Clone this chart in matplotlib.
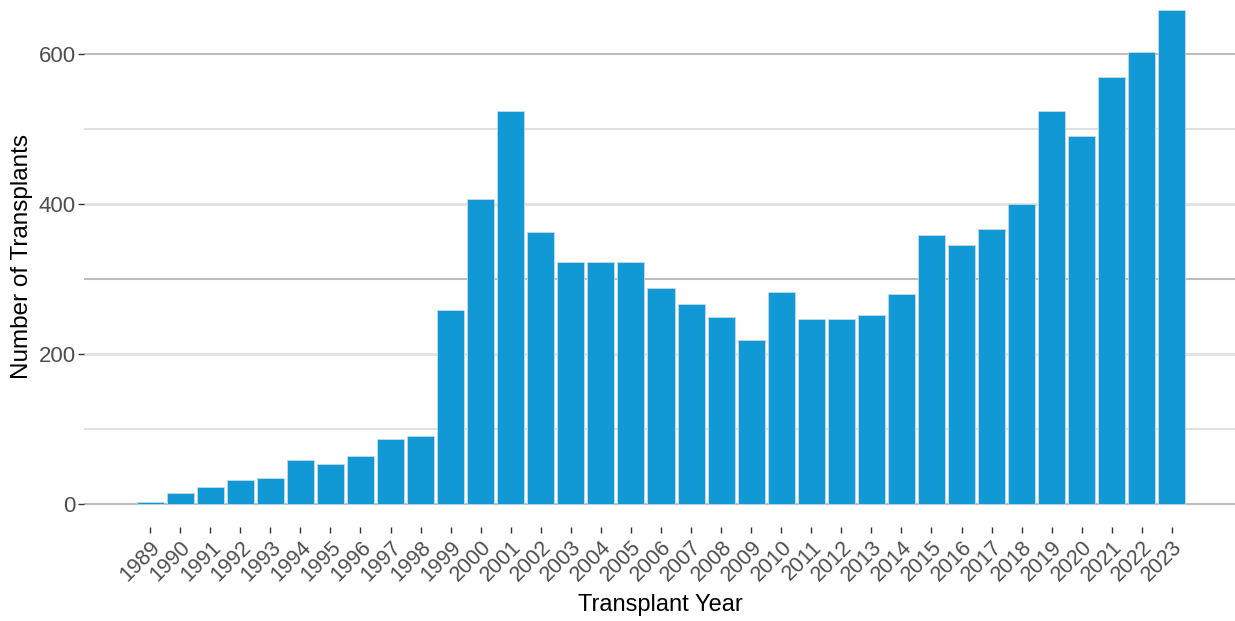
import numpy as np
import matplotlib.pyplot as plt

plt.rcParams['font.family'] = ['Liberation Sans', 'DejaVu Sans']

years = list(range(1989, 2024))
transplants = [2, 14, 22, 32, 35, 59, 53, 64, 87, 91,
               258, 406, 524, 363, 322, 323, 323, 288, 266, 249,
               219, 282, 247, 246, 252, 280, 359, 345, 367, 400,
               524, 491, 569, 602, 658]
y_ticks = [0, 200, 400, 600]

W, H = 1235, 621
fig = plt.figure(figsize=(W / 100, H / 100), dpi=100)
ax = fig.add_axes([84 / W, (H - 527) / H, (W - 84) / W, 527 / H])

# gridlines (0..600 every 100), styled roughly like the reference render
grid_style = {0: ('#bdbdbd', 1.5), 100: ('#dadada', 1.2), 200: ('#e3e3e3', 2.2),
              300: ('#bdbdbd', 1.5), 400: ('#e3e3e3', 2.2), 500: ('#dadada', 1.2),
              600: ('#bdbdbd', 1.5)}
for yv, (c, lw) in grid_style.items():
    ax.axhline(yv, color=c, lw=lw, zorder=0)

ax.bar(years, transplants, width=0.9, color='#1199D6',
       edgecolor='#c9d9e3', linewidth=0.6, zorder=2)

ax.set_xlim(1986.8, 2025.1)
ax.set_ylim(-31, 672)

for s in ax.spines.values():
    s.set_visible(False)

ax.set_yticks(y_ticks)
ax.set_xticks(years)
ax.set_xticklabels([str(y) for y in years], rotation=45, ha='right',
                   va='top', rotation_mode='anchor')
ax.tick_params(axis='y', length=4, width=1, color='#333333', pad=2,
               labelsize=16, labelcolor='#4d4d4d')
ax.tick_params(axis='x', length=4, width=1, color='#333333', pad=3,
               labelsize=15.5, labelcolor='#4d4d4d')

fig.text(22 / W, 1 - 256 / H, 'Number of Transplants', rotation=90,
         ha='center', va='center', fontsize=17.5, color='black')
fig.text(660 / W, 1 - 605 / H, 'Transplant Year', ha='center',
         va='center', fontsize=17, color='black')

fig.savefig('out.png', dpi=100)
